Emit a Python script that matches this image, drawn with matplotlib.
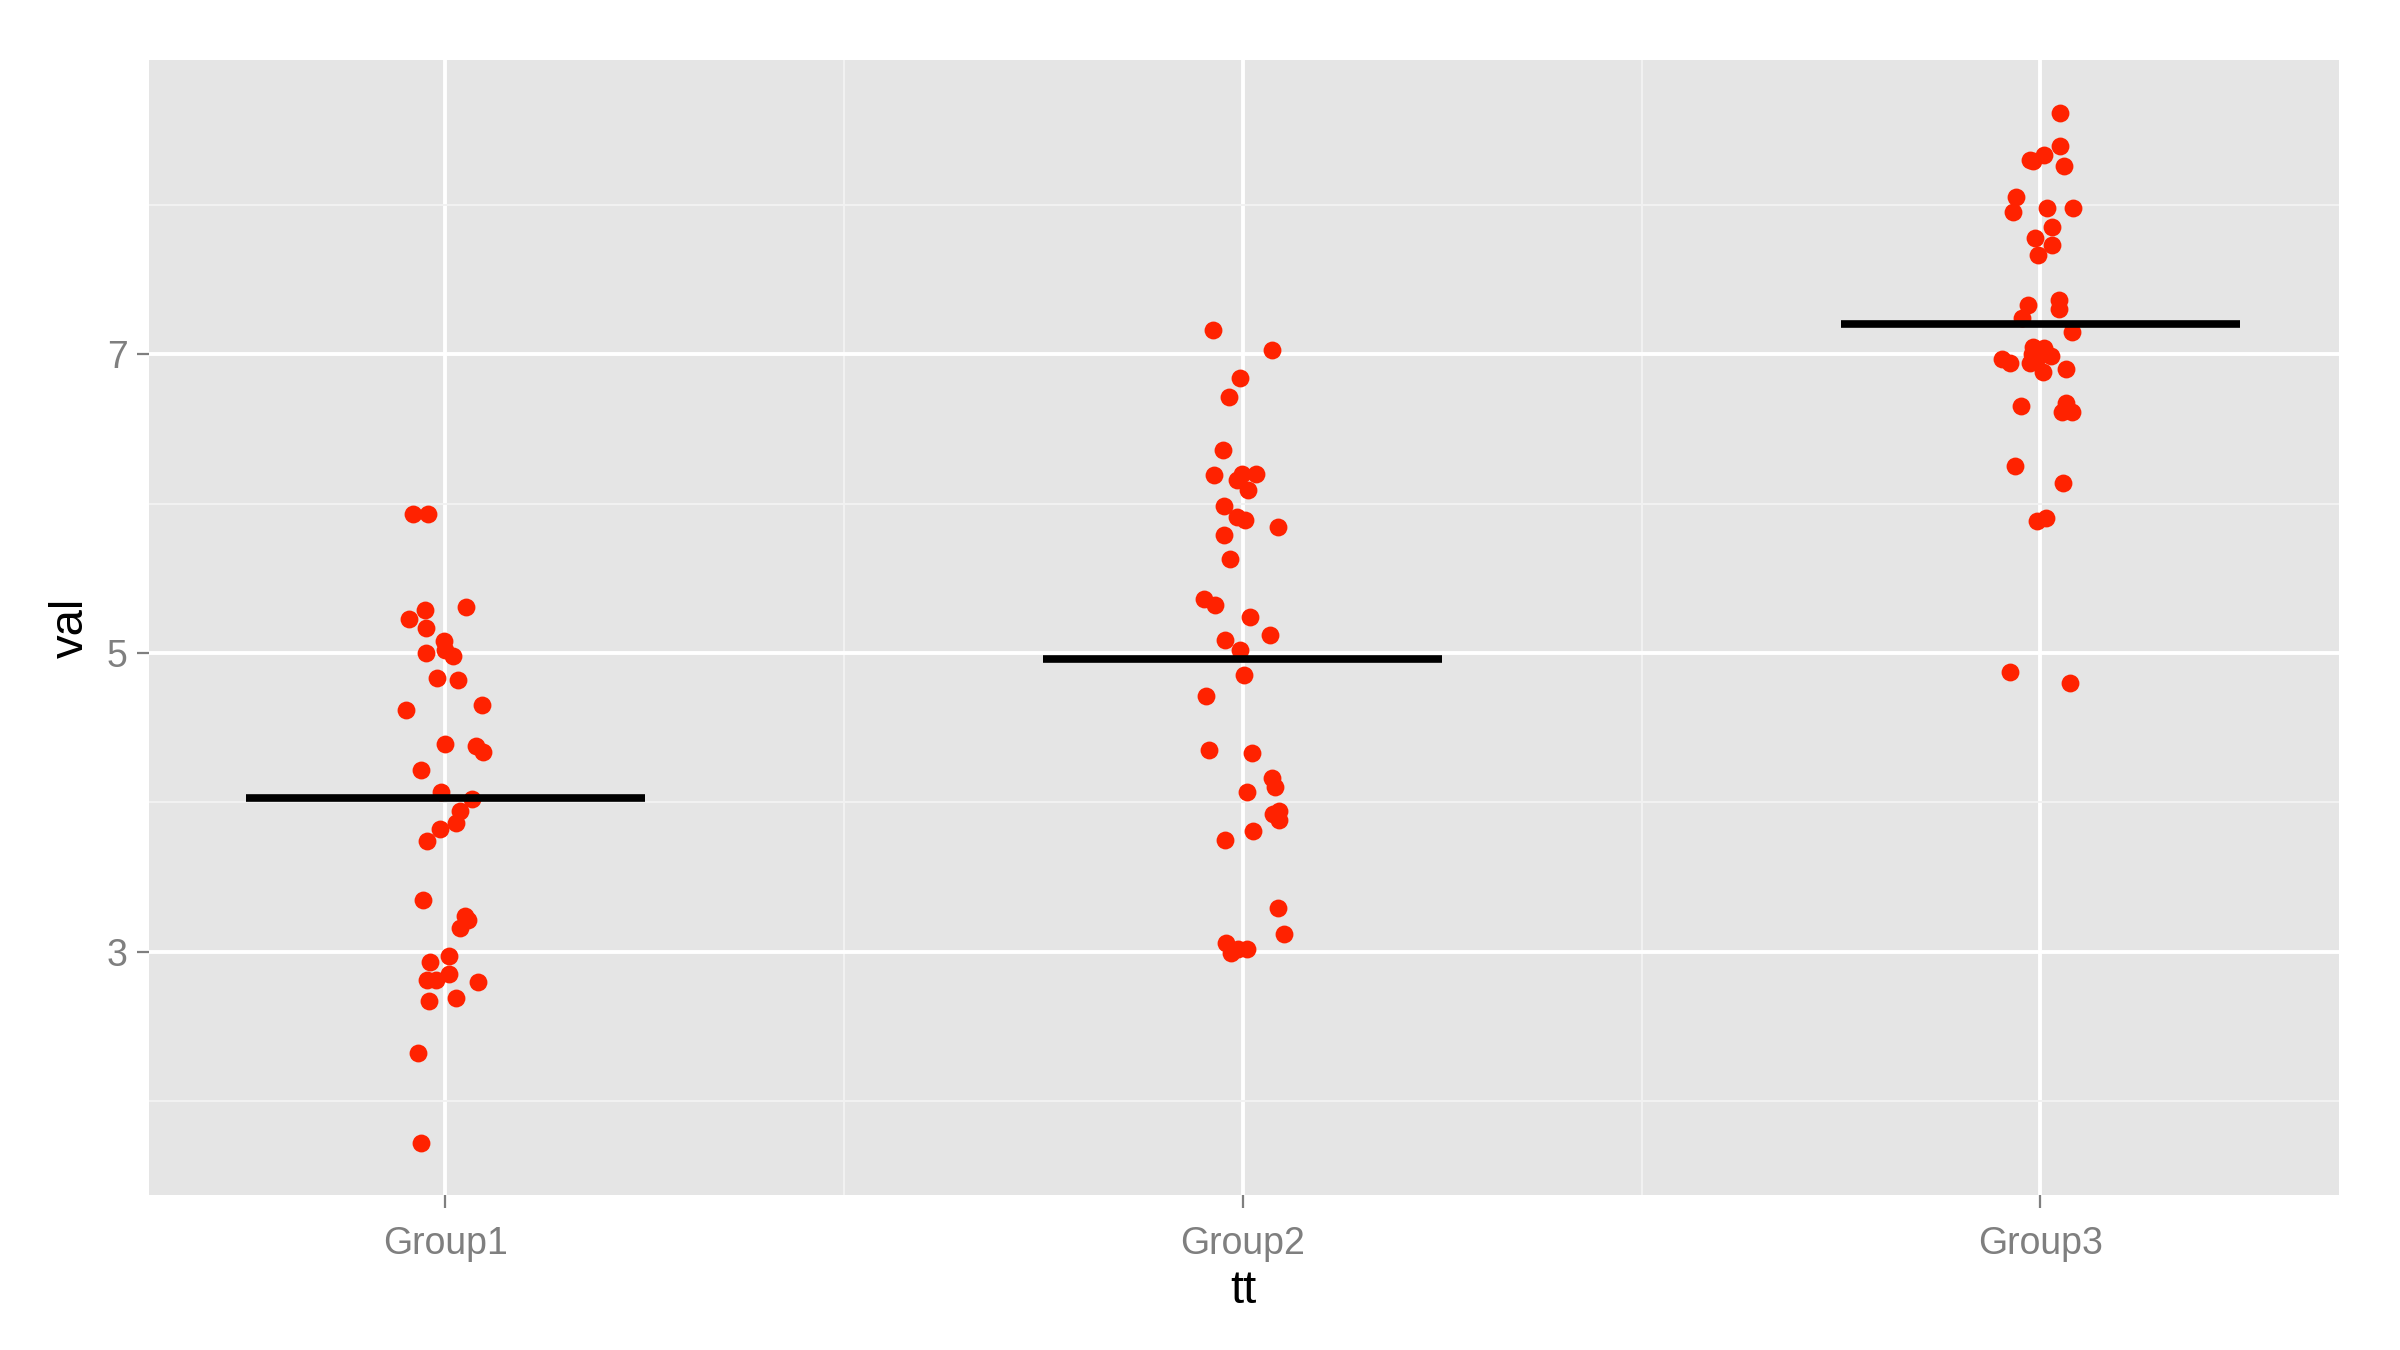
#지터 점 + 평균선 그래프
import matplotlib.pyplot as plt
from matplotlib.ticker import MultipleLocator

plt.rcParams['font.family'] = ['Liberation Sans', 'DejaVu Sans']

groups = ["Group1", "Group2", "Group3"]

# 그룹별 값
g1_val = [5.93, 5.93, 5.29, 5.31, 5.23, 5.17, 5.08, 5.02, 4.98, 5.00,
          4.83, 4.82, 4.62, 4.65, 4.39, 4.38, 4.34, 4.22, 4.07, 4.02,
          3.94, 3.86, 3.82, 3.74, 3.35, 3.24, 3.21, 3.16, 2.97, 2.93,
          2.81, 2.81, 2.85, 2.80, 2.67, 2.69, 2.32, 1.72]
g1_jit = [-0.040, -0.022, -0.026, 0.026, -0.046, -0.024, -0.001, 0.000, 0.010, -0.024,
          -0.010, 0.016, -0.049, 0.046, 0.000, 0.038, 0.047, -0.030, -0.005, 0.033,
          0.019, 0.014, -0.006, -0.023, -0.028, 0.025, 0.029, 0.018, 0.005, -0.019,
          -0.023, -0.011, 0.005, 0.041, -0.021, 0.013, -0.034, -0.031]

g2_val = [7.16, 7.03, 6.84, 6.71, 6.36, 6.19, 6.16, 6.20, 6.20, 6.09,
          5.98, 5.91, 5.89, 5.84, 5.79, 5.63, 5.36, 5.32, 5.24, 5.12,
          5.09, 5.02, 4.85, 4.71, 4.35, 4.33, 4.16, 4.10, 4.07, 3.92,
          3.94, 3.88, 3.81, 3.75, 3.29, 3.12, 3.06, 2.99, 3.02, 3.02]
g2_jit = [-0.038, 0.036, -0.003, -0.018, -0.025, -0.036, -0.008, -0.001, 0.016, 0.007,
          -0.024, -0.008, 0.003, 0.044, -0.024, -0.016, -0.049, -0.035, 0.009, 0.034,
          -0.023, -0.004, 0.002, -0.046, -0.043, 0.012, 0.036, 0.040, 0.005, 0.038,
          0.045, 0.045, 0.013, -0.023, 0.044, 0.051, -0.021, -0.015, -0.006, 0.005]

g3_val = [8.61, 8.39, 8.33, 8.30, 8.29, 8.26, 8.05, 7.95, 7.98, 7.98,
          7.85, 7.78, 7.73, 7.66, 7.33, 7.36, 7.30, 7.24, 7.15, 7.05,
          7.04, 6.99, 7.00, 6.97, 6.94, 6.94, 6.98, 6.88, 6.90, 6.65,
          6.67, 6.61, 6.61, 6.25, 6.14, 5.88, 5.90, 4.87, 4.80, 7.02]
g3_jit = [0.024, 0.024, 0.005, -0.013, -0.010, 0.029, -0.031, -0.035, 0.008, 0.041,
          0.015, -0.007, 0.014, -0.003, -0.016, 0.023, 0.023, -0.023, 0.040, -0.009,
          0.005, 0.013, -0.011, -0.048, -0.038, -0.013, -0.003, 0.003, 0.032, -0.024,
          0.032, 0.027, 0.039, -0.032, 0.028, -0.004, 0.007, -0.038, 0.037, -0.005]

# 평균값
means = [4.03, 4.96, 7.20]

all_val = [g1_val, g2_val, g3_val]
all_jit = [g1_jit, g2_jit, g3_jit]

fig = plt.figure(figsize=(24, 13.5), dpi=100)
ax = fig.add_axes([0.0619, 0.1145, 0.9126, 0.8413])

ax.set_facecolor("#E5E5E5")
for s in ax.spines.values():
    s.set_visible(False)

#격자
ax.xaxis.set_minor_locator(MultipleLocator(0.5))
ax.yaxis.set_minor_locator(MultipleLocator(1))
ax.grid(which="major", color="white", linewidth=2.8)
ax.grid(which="minor", color="#F2F2F2", linewidth=1.4)
ax.set_axisbelow(True)

#점
for i in range(3):
    xs = [i + 1 + d for d in all_jit[i]]
    ax.scatter(xs, all_val[i], s=165, color="#FF2200", linewidths=0, zorder=3)

#평균선
for i in range(3):
    ax.hlines(means[i], i + 1 - 0.25, i + 1 + 0.25, color="black", linewidth=5.5, zorder=4)

ax.set_xlim(0.628, 3.374)
ax.set_ylim(1.37, 8.97)
ax.set_xticks([1, 2, 3])
ax.set_xticklabels(groups)
ax.set_yticks([3, 5, 7])

ax.tick_params(which="major", length=9, width=1.6, color="#7F7F7F",
               labelcolor="#7F7F7F", labelsize=27, pad=6)
ax.tick_params(axis="x", pad=13)
ax.tick_params(which="minor", length=0)

ax.set_xlabel("tt", fontsize=34, labelpad=5)
ax.set_ylabel("val", fontsize=34, labelpad=10)

fig.savefig("out.png")
